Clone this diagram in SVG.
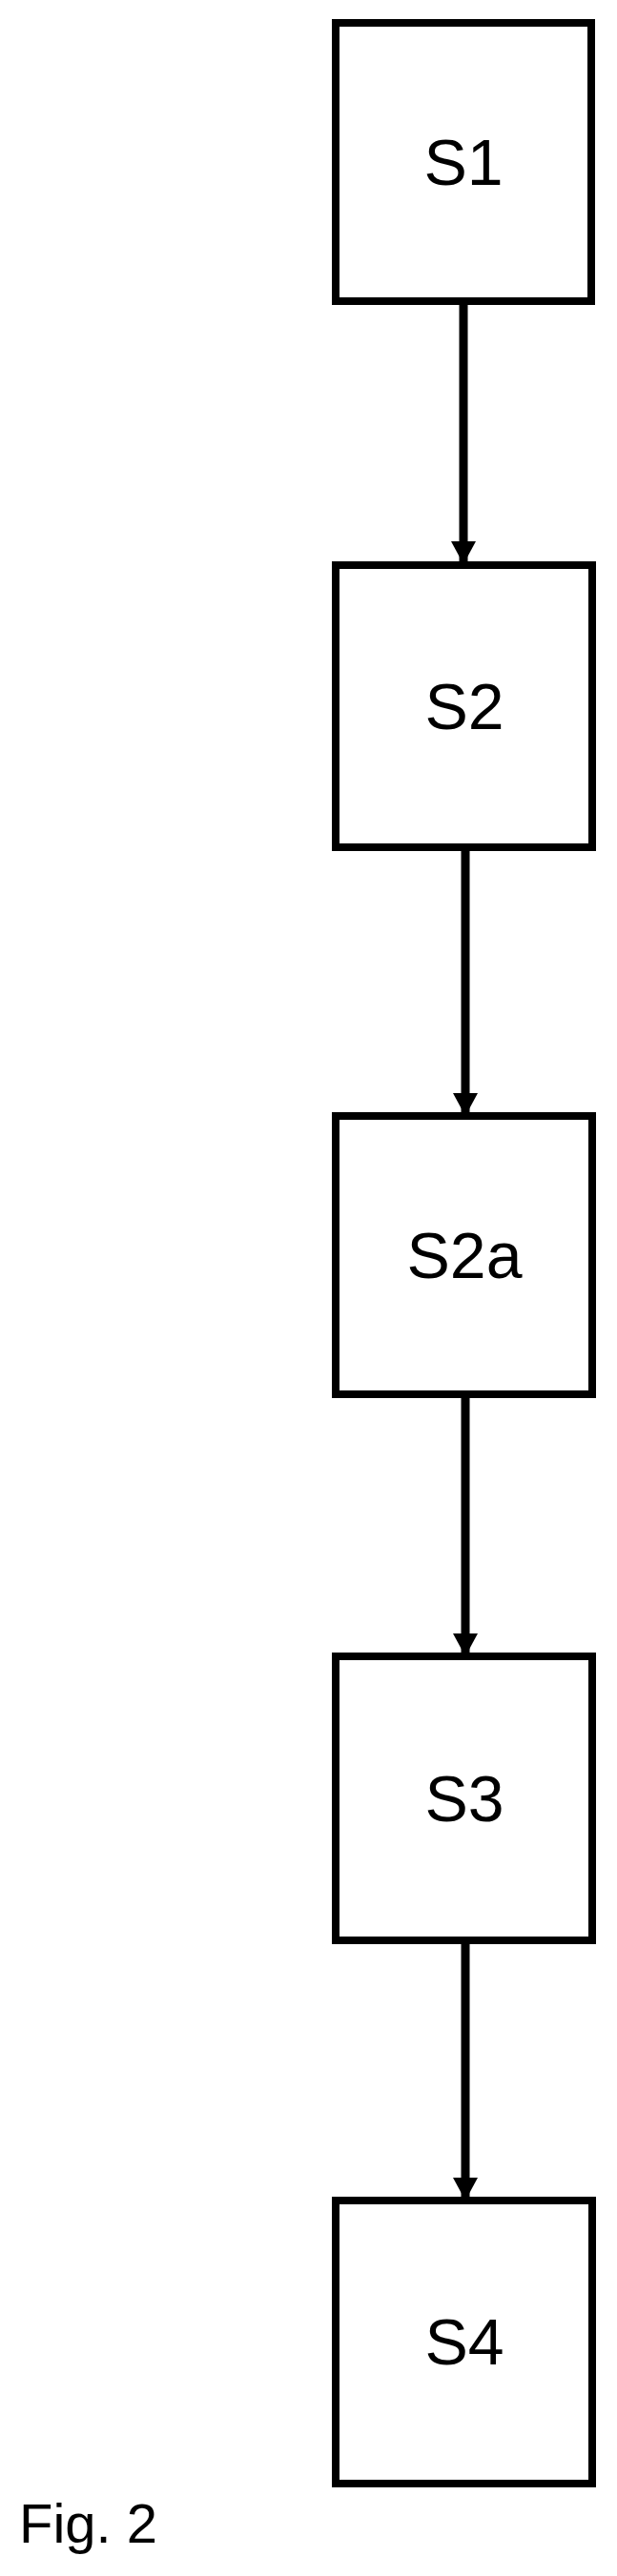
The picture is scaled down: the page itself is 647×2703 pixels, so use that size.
<svg xmlns="http://www.w3.org/2000/svg" width="647" height="2703" viewBox="0 0 647 2703">
<style>
.b{fill:#fff;stroke:#000;stroke-width:8}
.t{font-family:"Liberation Sans",Arial,sans-serif;font-size:68px;text-anchor:middle}
.c{stroke:#000;stroke-width:9;fill:none}
</style>
<defs><marker id="a" markerUnits="userSpaceOnUse" markerWidth="26" markerHeight="26" refX="13" refY="24" orient="auto-start-reverse" viewBox="0 0 26 26"><path d="M0,0 L26,0 L13,24 Z" transform="rotate(-90 13 13)"/></marker>
<marker id="h" markerUnits="userSpaceOnUse" markerWidth="26" markerHeight="26" refX="24" refY="13" orient="auto" viewBox="0 0 26 26"><path d="M0,0 L24,13 L0,26 Z"/></marker></defs>
<rect width="647" height="2703" fill="#fff"/>
<g id="connectors">
<line class="c" x1="486" y1="320" x2="486" y2="592" marker-end="url(#h)"/>
<line class="c" x1="488" y1="893" x2="488" y2="1171" marker-end="url(#h)"/>
<line class="c" x1="488" y1="1467" x2="488" y2="1738" marker-end="url(#h)"/>
<line class="c" x1="488" y1="2040" x2="488" y2="2309" marker-end="url(#h)"/>
</g>
<g id="S1"><rect class="b" x="352" y="24" width="268" height="292"/><text class="t" x="486" y="194">S1</text></g>
<g id="S2"><rect class="b" x="352" y="593" width="269" height="296"/><text class="t" x="487" y="765">S2</text></g>
<g id="S2a"><rect class="b" x="352" y="1171" width="269" height="292"/><text class="t" x="487" y="1341">S2a</text></g>
<g id="S3"><rect class="b" x="352" y="1738" width="269" height="298"/><text class="t" x="487" y="1911">S3</text></g>
<g id="S4"><rect class="b" x="352" y="2309" width="269" height="297"/><text class="t" x="487" y="2481">S4</text></g>
<text x="20" y="2668" font-family="Liberation Sans,Arial,sans-serif" font-size="58">Fig. 2</text>
</svg>
